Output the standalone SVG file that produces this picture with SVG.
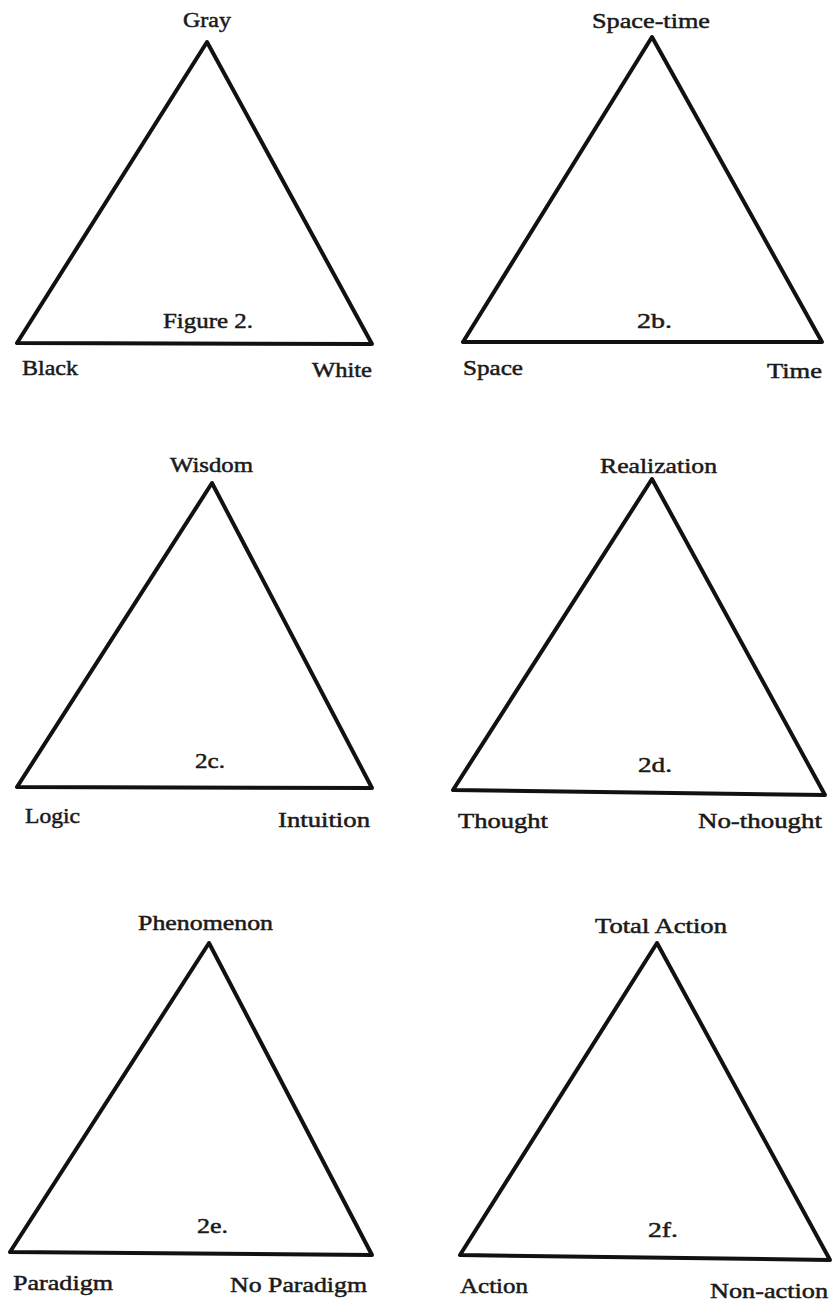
<svg xmlns="http://www.w3.org/2000/svg" width="835" height="1304" viewBox="0 0 835 1304">
<style>
.tri{fill:none;stroke:#111;stroke-width:4;stroke-linejoin:round}
text{font-family:"Liberation Serif","Times New Roman",serif;font-size:22px;fill:#1a1a1a;stroke:#1a1a1a;stroke-width:0.5}
</style>
<rect width="835" height="1304" fill="#fff"/>
<g id="fig-a">
<polygon id="tri-a" class="tri" points="207,42 17,343 372,344"/>
<text x="183" y="27" textLength="48" lengthAdjust="spacingAndGlyphs">Gray</text>
<text x="163" y="328" textLength="90" lengthAdjust="spacingAndGlyphs">Figure 2.</text>
<text x="22" y="375" textLength="56" lengthAdjust="spacingAndGlyphs">Black</text>
<text x="312" y="377" textLength="60" lengthAdjust="spacingAndGlyphs">White</text>
</g>
<g id="fig-b">
<polygon id="tri-b" class="tri" points="652,37 463,342 822,342"/>
<text x="592" y="28" textLength="118" lengthAdjust="spacingAndGlyphs">Space-time</text>
<text x="637" y="328" textLength="35" lengthAdjust="spacingAndGlyphs">2b.</text>
<text x="463" y="375" textLength="60" lengthAdjust="spacingAndGlyphs">Space</text>
<text x="767" y="378" textLength="55" lengthAdjust="spacingAndGlyphs">Time</text>
</g>
<g id="fig-c">
<polygon id="tri-c" class="tri" points="212,483 17,787 372,788"/>
<text x="170" y="472" textLength="83" lengthAdjust="spacingAndGlyphs">Wisdom</text>
<text x="195" y="768" textLength="30" lengthAdjust="spacingAndGlyphs">2c.</text>
<text x="25" y="823" textLength="55" lengthAdjust="spacingAndGlyphs">Logic</text>
<text x="278" y="827" textLength="92" lengthAdjust="spacingAndGlyphs">Intuition</text>
</g>
<g id="fig-d">
<polygon id="tri-d" class="tri" points="652,479 453,790 825,795"/>
<text x="600" y="473" textLength="117" lengthAdjust="spacingAndGlyphs">Realization</text>
<text x="638" y="772" textLength="34" lengthAdjust="spacingAndGlyphs">2d.</text>
<text x="458" y="828" textLength="90" lengthAdjust="spacingAndGlyphs">Thought</text>
<text x="698" y="828" textLength="124" lengthAdjust="spacingAndGlyphs">No-thought</text>
</g>
<g id="fig-e">
<polygon id="tri-e" class="tri" points="209,943 10,1252 372,1255"/>
<text x="138" y="930" textLength="135" lengthAdjust="spacingAndGlyphs">Phenomenon</text>
<text x="197" y="1233" textLength="31" lengthAdjust="spacingAndGlyphs">2e.</text>
<text x="13" y="1290" textLength="100" lengthAdjust="spacingAndGlyphs">Paradigm</text>
<text x="230" y="1292" textLength="137" lengthAdjust="spacingAndGlyphs">No Paradigm</text>
</g>
<g id="fig-f">
<polygon id="tri-f" class="tri" points="657,943 460,1255 830,1260"/>
<text x="595" y="933" textLength="132" lengthAdjust="spacingAndGlyphs">Total Action</text>
<text x="648" y="1237" textLength="30" lengthAdjust="spacingAndGlyphs">2f.</text>
<text x="460" y="1293" textLength="68" lengthAdjust="spacingAndGlyphs">Action</text>
<text x="710" y="1298" textLength="118" lengthAdjust="spacingAndGlyphs">Non-action</text>
</g>
</svg>
